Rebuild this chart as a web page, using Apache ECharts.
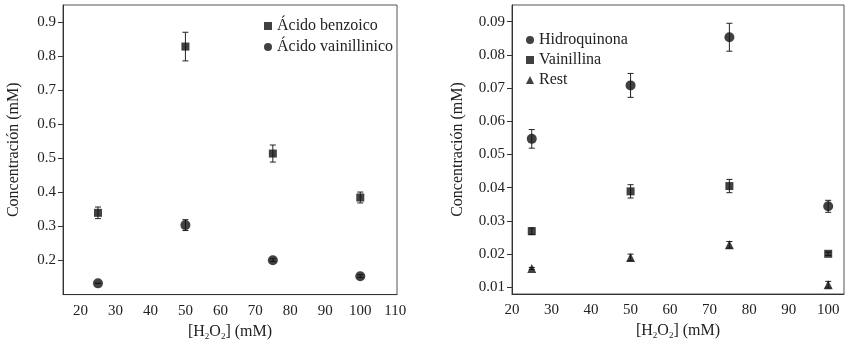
<!DOCTYPE html>
<html>
<head>
<meta charset="utf-8">
<script src="https://cdn.jsdelivr.net/npm/echarts@6/dist/echarts.min.js"></script>
<style>
  html, body { margin: 0; padding: 0; background: #fff; }
  #chart { width: 855px; height: 346px; }
</style>
</head>
<body>
<div id="chart"></div>
<script>
// datos
var h2o2 = [25, 50, 75, 100];

var benzoico = [0.34, 0.828, 0.514, 0.385];
var benzoicoErr = [0.017, 0.042, 0.025, 0.016];
var vainillinico = [0.133, 0.304, 0.201, 0.154];
var vainillinicoErr = [0, 0.016, 0.004, 0.004];

var hidroquinona = [0.0547, 0.0708, 0.0853, 0.0344];
var hidroquinonaErr = [0.0028, 0.0036, 0.0042, 0.0018];
var vainillina = [0.0269, 0.0389, 0.0405, 0.0201];
var vainillinaErr = [0.001, 0.002, 0.002, 0.0005];
var rest = [0.0157, 0.019, 0.0228, 0.0108];
var restErr = [0.0003, 0.001, 0.001, 0.001];

var xTicksLeft = [20, 30, 40, 50, 60, 70, 80, 90, 100, 110];
var yTicksLeft = [0.2, 0.3, 0.4, 0.5, 0.6, 0.7, 0.8, 0.9];
var xTicksRight = [20, 30, 40, 50, 60, 70, 80, 90, 100];
var yTicksRight = [0.01, 0.02, 0.03, 0.04, 0.05, 0.06, 0.07, 0.08, 0.09];

var font = "Liberation Serif";
var ink = "#111";

function pts(ys) {
  return h2o2.map(function (x, i) { return [x, ys[i]]; });
}
function errPts(ys, es) {
  return h2o2.map(function (x, i) { return [x, ys[i], es[i]]; });
}

function errorBars(ys, es, idx) {
  return {
    type: "custom",
    xAxisIndex: idx,
    yAxisIndex: idx,
    silent: true,
    z: 1,
    data: errPts(ys, es),
    encode: { x: 0, y: 1 },
    renderItem: function (params, api) {
      var x = api.value(0), y = api.value(1), e = api.value(2);
      var top = api.coord([x, y + e]);
      var bot = api.coord([x, y - e]);
      var w = 3;
      var st = { stroke: "#222", lineWidth: 1 };
      return {
        type: "group",
        children: [
          { type: "line", shape: { x1: top[0], y1: top[1], x2: bot[0], y2: bot[1] }, style: st },
          { type: "line", shape: { x1: top[0] - w, y1: top[1], x2: top[0] + w, y2: top[1] }, style: st },
          { type: "line", shape: { x1: bot[0] - w, y1: bot[1], x2: bot[0] + w, y2: bot[1] }, style: st }
        ]
      };
    }
  };
}

function scatter(name, ys, symbol, size, idx) {
  return {
    name: name,
    type: "scatter",
    xAxisIndex: idx,
    yAxisIndex: idx,
    symbol: symbol,
    symbolSize: size,
    itemStyle: { color: ink },
    z: 2,
    data: pts(ys)
  };
}

var h2o2Name = "{a|[H}{s|2}{a|O}{s|2}{a|] (mM)}";
var nameRich = {
  a: { fontFamily: font, fontSize: 16, color: "#222" },
  s: { fontFamily: font, fontSize: 9, color: "#222", padding: [10, 0, 0, 0] }
};

function xAxis(idx, min, max, ticks) {
  return {
    type: "value",
    gridIndex: idx,
    min: min,
    max: max,
    name: h2o2Name,
    nameLocation: "middle",
    nameGap: 27,
    nameTextStyle: { rich: nameRich },
    splitLine: { show: false },
    axisLine: { show: true, lineStyle: { color: "#333" } },
    axisTick: { show: false },
    axisLabel: {
      customValues: ticks,
      fontFamily: font,
      fontSize: 15,
      color: "#222",
      margin: 9
    }
  };
}

function yAxis(idx, min, max, ticks, digits, gap) {
  return {
    type: "value",
    gridIndex: idx,
    min: min,
    max: max,
    name: "Concentración (mM)",
    nameLocation: "middle",
    nameRotate: 90,
    nameGap: gap,
    nameTextStyle: { fontFamily: font, fontSize: 16, color: "#222" },
    splitLine: { show: false },
    axisLine: { show: true, lineStyle: { color: "#333" } },
    axisTick: { show: true, customValues: ticks, length: 5, lineStyle: { color: "#333" } },
    axisLabel: {
      customValues: ticks,
      fontFamily: font,
      fontSize: 15,
      color: "#222",
      margin: 7,
      formatter: function (v) { return v.toFixed(digits); }
    }
  };
}

var chart = echarts.init(document.getElementById("chart"));
chart.setOption({
  animation: false,
  backgroundColor: "#fff",
  grid: [
    { left: 63, right: 458, top: 5, bottom: 51, show: true, borderColor: "#555", borderWidth: 1 },
    { left: 512, right: 11, top: 5, bottom: 52, show: true, borderColor: "#555", borderWidth: 1 }
  ],
  legend: [
    {
      data: ["Ácido benzoico", "Ácido vainillinico"],
      orient: "vertical",
      left: 259,
      top: 13,
      itemWidth: 8,
      itemHeight: 8,
      itemGap: 5,
      textStyle: { fontFamily: font, fontSize: 16, color: "#222" }
    },
    {
      data: ["Hidroquinona", "Vainillina", "Rest"],
      orient: "vertical",
      left: 521,
      top: 27,
      itemWidth: 8,
      itemHeight: 8,
      itemGap: 4,
      textStyle: { fontFamily: font, fontSize: 16, color: "#222" }
    }
  ],
  xAxis: [
    xAxis(0, 15, 110.5, xTicksLeft),
    xAxis(1, 20, 104, xTicksRight)
  ],
  yAxis: [
    yAxis(0, 0.1, 0.95, yTicksLeft, 1, 41),
    yAxis(1, 0.008, 0.095, yTicksRight, 2, 46)
  ],
  series: [
    errorBars(benzoico, benzoicoErr, 0),
    errorBars(vainillinico, vainillinicoErr, 0),
    scatter("Ácido benzoico", benzoico, "rect", 8, 0),
    scatter("Ácido vainillinico", vainillinico, "circle", 10, 0),
    errorBars(hidroquinona, hidroquinonaErr, 1),
    errorBars(vainillina, vainillinaErr, 1),
    errorBars(rest, restErr, 1),
    scatter("Hidroquinona", hidroquinona, "circle", 10, 1),
    scatter("Vainillina", vainillina, "rect", 8, 1),
    scatter("Rest", rest, "triangle", 9, 1)
  ]
});
</script>
</body>
</html>
